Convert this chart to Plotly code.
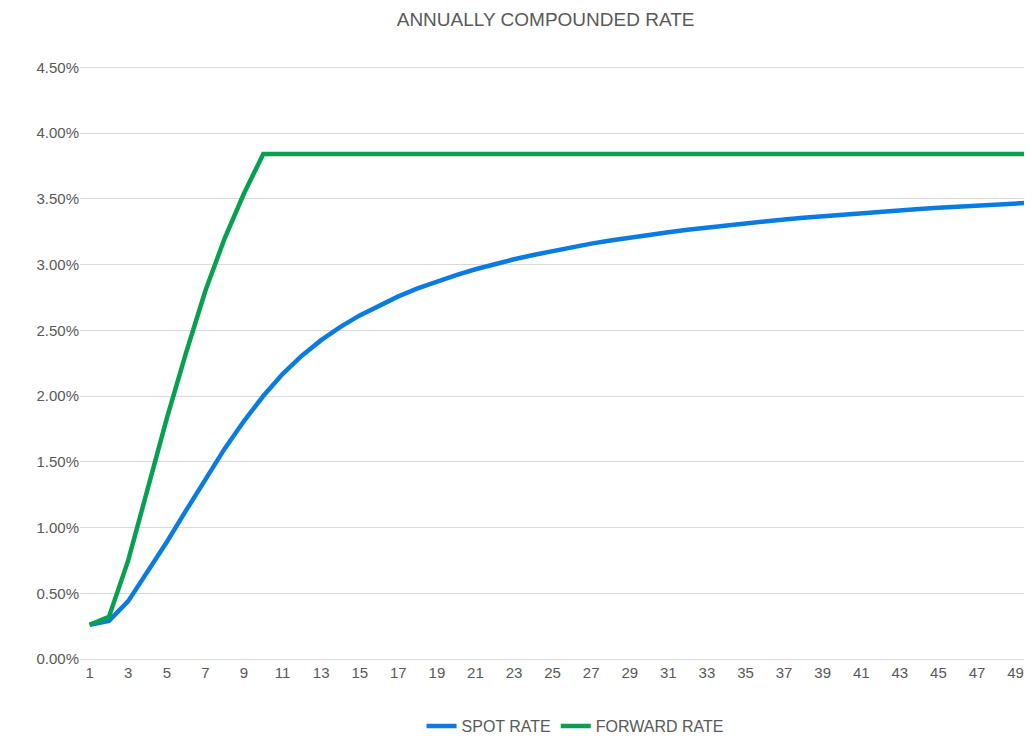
import plotly.graph_objects as go

years = list(range(1, 51))
spot = [0.26,0.29,0.44,0.66,0.89,1.13,1.37,1.60,1.81,2.00,
        2.167,2.307,2.425,2.526,2.613,2.690,2.758,2.818,2.872,2.920,
        2.964,3.004,3.040,3.073,3.104,3.132,3.159,3.183,3.206,3.227,
        3.246,3.265,3.282,3.299,3.314,3.329,3.343,3.356,3.368,3.380,
        3.391,3.402,3.412,3.422,3.431,3.440,3.449,3.457,3.464,3.472]
forward = [0.26,0.32,0.75,1.30,1.83,2.33,2.80,3.20,3.54,3.84] + [3.84]*40

fig = go.Figure()
fig.add_trace(go.Scatter(x=years, y=[v/100 for v in spot], mode="lines", name="SPOT RATE",
                         line=dict(color="#0A7BE0", width=4.5)))
fig.add_trace(go.Scatter(x=years, y=[v/100 for v in forward], mode="lines", name="FORWARD RATE",
                         line=dict(color="#06A050", width=4.5)))
fig.update_layout(
    width=1024, height=735, paper_bgcolor="white", plot_bgcolor="white",
    margin=dict(l=72, r=0, t=58, b=81),
    title=dict(text="ANNUALLY COMPOUNDED RATE", x=0.525, xanchor="center", y=0.993, yanchor="top",
               font=dict(family="Liberation Sans, Arial", size=19, color="#595959")),
    font=dict(family="Liberation Sans, Arial", size=15, color="#595959"),
    showlegend=True,
    legend=dict(orientation="h", x=0.52, xanchor="center", y=-0.085, yanchor="top",
                font=dict(size=16, color="#595959")),
    xaxis=dict(range=[0.5, 49.85], tickvals=list(range(1, 50, 2)), showgrid=False,
               showline=True, linecolor="#D9D9D9", ticks="", zeroline=False),
    yaxis=dict(range=[0, 0.0451], tickvals=[i*0.005 for i in range(10)], tickformat=".2%",
               showgrid=True, gridcolor="#D9D9D9", zeroline=False, ticks=""),
)
fig.write_html("out.html")
